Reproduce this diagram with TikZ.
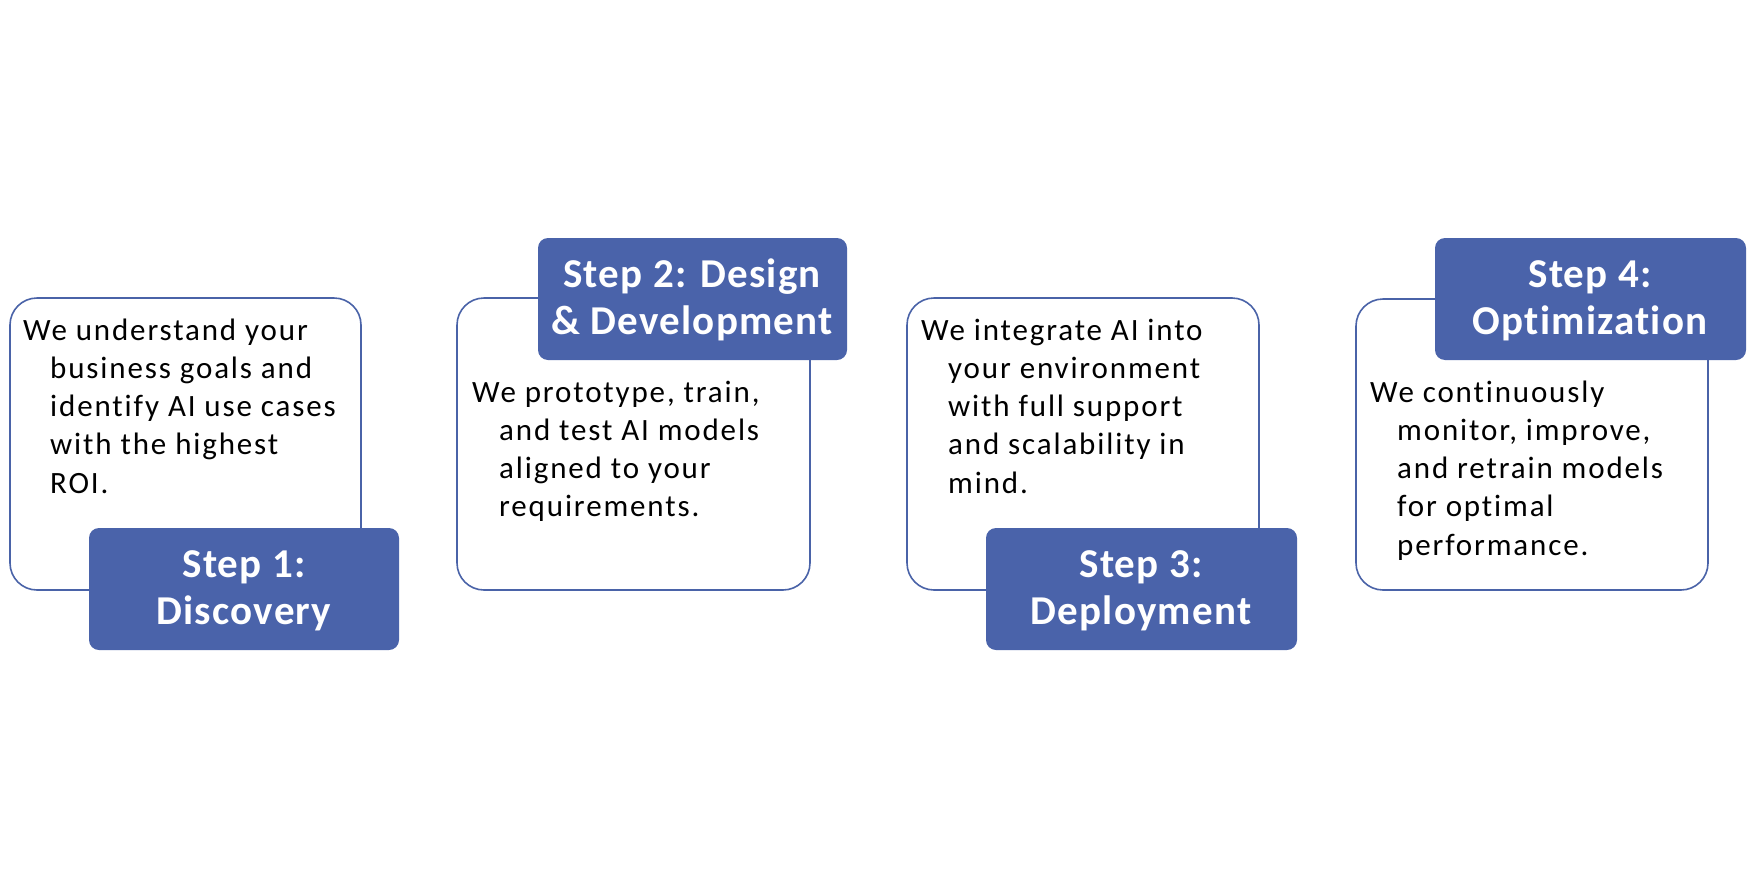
\documentclass[tikz,border=0pt]{standalone}
\usepackage{fontspec}
\setmainfont[Ligatures=NoCommon, LetterSpace=6]{Carlito}
\newfontfamily\labelfont[Ligatures=NoCommon, LetterSpace=3]{Carlito}
\definecolor{stepblue}{RGB}{74,99,170}
\definecolor{edgeblue}{RGB}{74,99,168}
\tikzset{
  cardbox/.style={draw=edgeblue, line width=1.6pt, fill=white, rounded corners=27pt},
  labelbox/.style={fill=stepblue, draw=none, rounded corners=10pt},
  bodytext/.style={anchor=base west, inner sep=0pt, text=black},
  labeltext/.style={anchor=base, inner sep=0pt, text=white}
}
\newcommand{\bodypar}[1]{\parbox[t]{400pt}{\fontsize{31}{38.3}\selectfont\hangindent=27pt\hangafter=1 #1}}
\newcommand{\labelpar}[1]{{\labelfont\fontsize{41}{47}\selectfont\bfseries\begin{tabular}[t]{@{}c@{}}#1\end{tabular}}}
\begin{document}
\begin{tikzpicture}[x=1pt,y=-1pt]
\useasboundingbox (0,0) rectangle (1748,889);
% card 1
\draw[cardbox] (10,298) rectangle (361,590);
\node[bodytext] (b1) at (23,340) {\bodypar{We understand your\\business goals and\\identify AI use cases\\with the highest\\ROI.}};
\fill[labelbox] (89,528) rectangle (399,650);
\node[labeltext] (l1) at (244,577) {\labelpar{Step 1:\\Discovery}};
% card 2
\draw[cardbox] (457,298) rectangle (810,590);
\node[bodytext] (b2) at (472,402) {\bodypar{We prototype, train,\\and test AI models\\aligned to your\\requirements.}};
\fill[labelbox] (538,238) rectangle (847,360);
\node[labeltext] (l2) at (692,287) {\labelpar{Step 2: Design\\\& Development}};
% card 3
\draw[cardbox] (907,298) rectangle (1259,590);
\node[bodytext] (b3) at (921,340) {\bodypar{We integrate AI into\\your environment\\with full support\\and scalability in\\mind.}};
\fill[labelbox] (986,528) rectangle (1297,650);
\node[labeltext] (l3) at (1141,577) {\labelpar{Step 3:\\Deployment}};
% card 4
\draw[cardbox] (1356,299) rectangle (1708,590);
\node[bodytext] (b4) at (1370,402) {\bodypar{We continuously\\monitor, improve,\\and retrain models\\for optimal\\performance.}};
\fill[labelbox] (1435,238) rectangle (1746,360);
\node[labeltext] (l4) at (1590,287) {\labelpar{Step 4:\\Optimization}};
\end{tikzpicture}
\end{document}
